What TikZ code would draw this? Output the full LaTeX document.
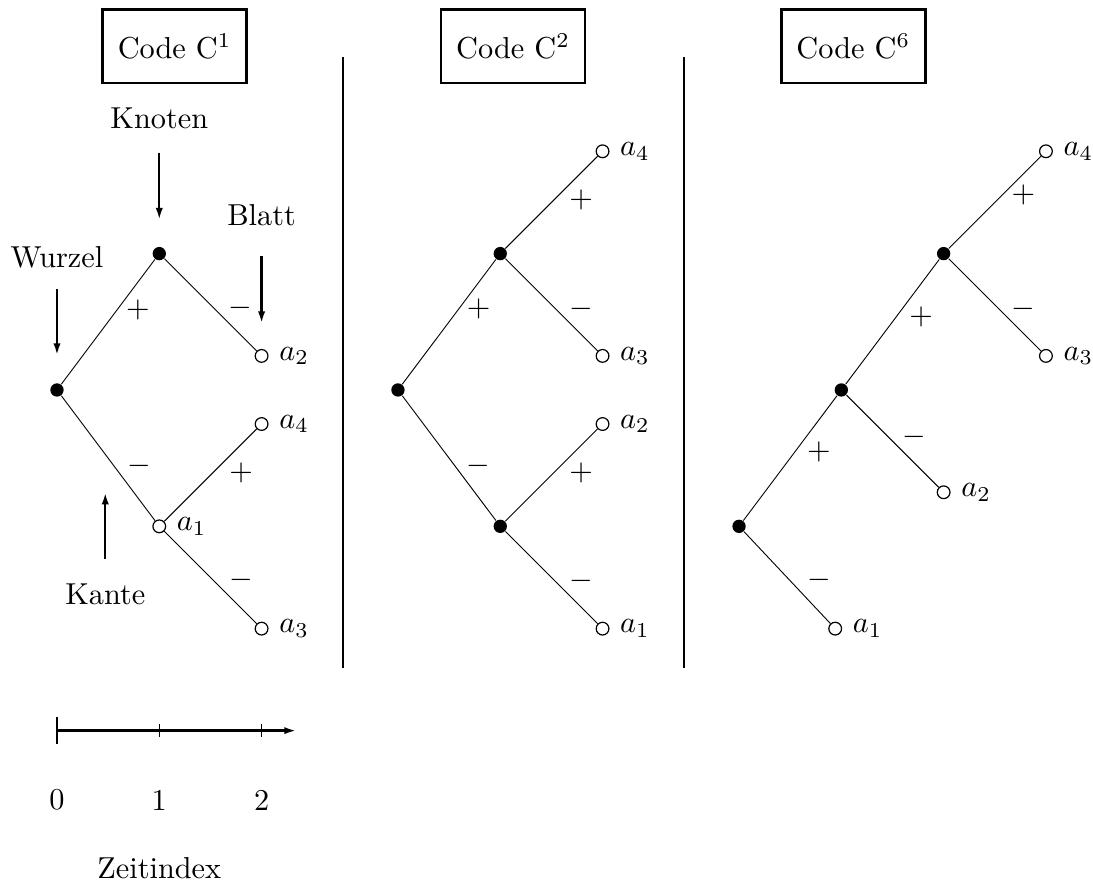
\documentclass[tikz,border=0pt]{standalone}
\usepackage{amsmath}
\usetikzlibrary{arrows.meta}

\begin{document}
\begin{tikzpicture}[
    x=1.187cm, y=1.187cm,
    >={Latex[length=4pt, width=2.4pt]},
    inner/.style={circle, fill=black, inner sep=0pt, minimum size=4.4pt},
    leaf/.style={circle, draw, thin, fill=white, inner sep=0pt, minimum size=4.2pt},
    branch/.style={line width=0.3pt},
    codebox/.style={draw, thick, inner xsep=5pt, minimum height=0.85cm},
    sgn/.style={inner sep=1pt},
    pointer/.style={->, thick},
]
\useasboundingbox (-0.557,-4.809) rectangle (10.127,3.812);

% Code C^1
\begin{scope}
\node[codebox] (c1) at (1.15,3.36) {Code C$^1$};

\node[inner] (r1) at (0,0) {};
\node[inner] (k1) at (1,1.333) {};
\node[leaf, label=right:$a_2$] (l1b) at (2,0.333) {};
\node[leaf, label=right:$a_1$] (l1a) at (1,-1.333) {};
\node[leaf, label=right:$a_4$] (l1d) at (2,-0.333) {};
\node[leaf, label=right:$a_3$] (l1c) at (2,-2.333) {};

\draw[branch] (r1) -- (k1);
\draw[branch] (k1) -- (l1b);
\draw[branch] (r1) -- (l1a);
\draw[branch] (l1a) -- (l1d);
\draw[branch] (l1a) -- (l1c);

\node[sgn] (s1a) at (0.79,0.78) {$+$};
\node[sgn] (s1b) at (1.79,0.80) {$-$};
\node[sgn] (s1c) at (0.80,-0.74) {$-$};
\node[sgn] (s1d) at (1.80,-0.81) {$+$};
\node[sgn] (s1e) at (1.80,-1.86) {$-$};

% Annotations
\node (knoten) at (1,2.654) {Knoten};
\node (blatt) at (2,1.706) {Blatt};
\node (wurzel) at (0,1.30) {Wurzel};
\node (kante) at (0.472,-2.0) {Kante};
\coordinate (kante-tip) at (0.472,-1.0);

\draw[pointer] ([yshift=-4.3pt]knoten.south) -- ([yshift=8.7pt]k1.north);
\draw[pointer] ([yshift=-6.3pt]blatt.south) -- ([yshift=8.4pt]l1b.north);
\draw[pointer] ([yshift=-3.6pt]wurzel.south) -- ([yshift=9pt]r1.north);
\draw[pointer] ([yshift=4.8pt]kante.north) -- (kante-tip);
\end{scope}

% Separators
\draw[thin] (2.796,3.255) -- (2.796,-2.72);
\draw[thin] (6.13,3.255) -- (6.13,-2.72);

% Code C^2
\begin{scope}[shift={(3.333,0)}]
\node[codebox] (c2) at (1.125,3.36) {Code C$^2$};

\node[inner] (r2) at (0,0) {};
\node[inner] (k2a) at (1,1.333) {};
\node[inner] (k2b) at (1,-1.333) {};
\node[leaf, label=right:$a_4$] (l2d) at (2,2.333) {};
\node[leaf, label=right:$a_3$] (l2c) at (2,0.333) {};
\node[leaf, label=right:$a_2$] (l2b) at (2,-0.333) {};
\node[leaf, label=right:$a_1$] (l2a) at (2,-2.333) {};

\draw[branch] (r2) -- (k2a);
\draw[branch] (k2a) -- (l2d);
\draw[branch] (k2a) -- (l2c);
\draw[branch] (r2) -- (k2b);
\draw[branch] (k2b) -- (l2b);
\draw[branch] (k2b) -- (l2a);

\node[sgn] (s2a) at (1.79,1.86) {$+$};
\node[sgn] (s2b) at (0.79,0.79) {$+$};
\node[sgn] (s2c) at (1.79,0.79) {$-$};
\node[sgn] (s2d) at (0.79,-0.74) {$-$};
\node[sgn] (s2e) at (1.79,-0.81) {$+$};
\node[sgn] (s2f) at (1.79,-1.865) {$-$};
\end{scope}

% Code C^6
\begin{scope}[shift={(6.667,0)}]
\node[codebox] (c6) at (1.117,3.36) {Code C$^6$};

\node[inner] (r3) at (0,-1.333) {};
\node[inner] (k3a) at (1,0) {};
\node[inner] (k3b) at (2,1.333) {};
\node[leaf, label=right:$a_4$] (l3d) at (3,2.333) {};
\node[leaf, label=right:$a_3$] (l3c) at (3,0.333) {};
\node[leaf, label=right:$a_2$] (l3b) at (2,-1) {};
\node[leaf, label=right:$a_1$] (l3a) at (0.94,-2.333) {};

\draw[branch] (r3) -- (k3a);
\draw[branch] (k3a) -- (k3b);
\draw[branch] (k3b) -- (l3d);
\draw[branch] (k3b) -- (l3c);
\draw[branch] (k3a) -- (l3b);
\draw[branch] (r3) -- (l3a);

\node[sgn] (s3a) at (1.78,0.716) {$+$};
\node[sgn] (s3b) at (2.78,0.79) {$-$};
\node[sgn] (s3c) at (2.78,1.91) {$+$};
\node[sgn] (s3d) at (0.78,-0.61) {$+$};
\node[sgn] (s3e) at (1.71,-0.46) {$-$};
\node[sgn] (s3f) at (0.78,-1.86) {$-$};
\end{scope}

% Zeitachse
\coordinate (t0) at (0,-3.33);
\coordinate (t1) at (1,-3.33);
\coordinate (t2) at (2,-3.33);
\coordinate (tend) at (2.34,-3.33);
\draw[->, thick] (t0) -- (tend);
\draw[thin] ([yshift=4.5pt]t0) -- ([yshift=-4.5pt]t0);
\draw[thin] ([yshift=2.2pt]t1) -- ([yshift=-2.2pt]t1);
\draw[thin] ([yshift=2.2pt]t2) -- ([yshift=-2.2pt]t2);

\node (z0) at (0,-4.008) {0};
\node (z1) at (1,-4.008) {1};
\node (z2) at (2,-4.008) {2};
\node (zeit) at (1,-4.677) {Zeitindex};

\end{tikzpicture}
\end{document}
